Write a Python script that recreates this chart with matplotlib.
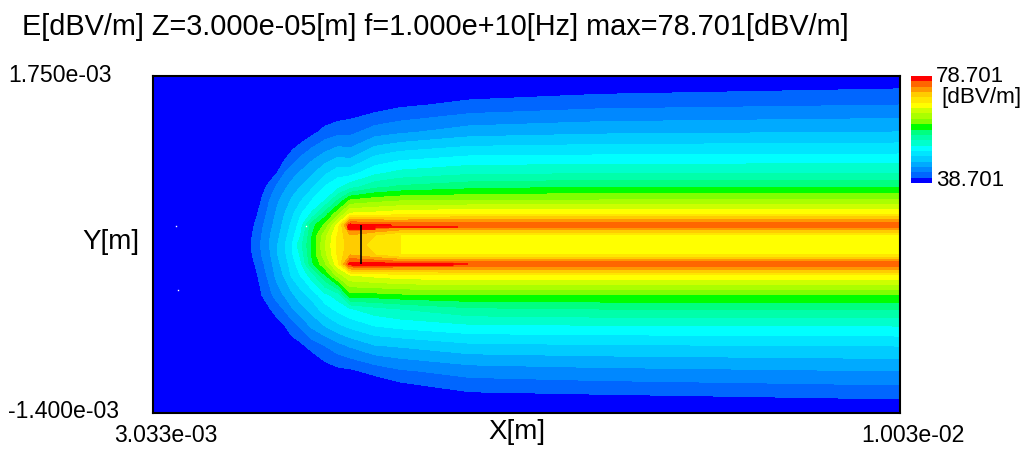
#!/usr/bin/env python3
# -*- coding: utf-8 -*-

"""
E field map at Z=3e-05 m, filled contours with a discrete colour bar
"""

import numpy as np
import matplotlib
matplotlib.use("Agg")
import matplotlib.pyplot as plt
from matplotlib.colors import ListedColormap, BoundaryNorm

E_MIN = 38.701
E_MAX = 78.701
E_STEP = 2.0

# Grid nodes [m]
y_nodes = [1.750e-3, 1.479e-3, 1.227e-3, 1.021e-3, 0.843e-3, 0.712e-3, 0.591e-3,
           0.460e-3, 0.357e-3, 0.264e-3, 0.170e-3, 0.077e-3, -0.007e-3, -0.110e-3,
           -0.297e-3, -0.428e-3, -0.587e-3, -0.774e-3, -1.007e-3, -1.269e-3, -1.400e-3]
x_nodes = [3.033e-3, 3.755e-3, 3.962e-3, 4.056e-3, 4.130e-3, 4.196e-3, 4.271e-3, 4.337e-3,
           4.412e-3, 4.524e-3, 4.646e-3, 4.768e-3, 4.881e-3, 5.115e-3, 5.350e-3, 6.006e-3,
           7.225e-3, 1.003e-2]

# Field along each x node, in colour steps above E_MIN (one step = 2 dB)
col_00 = [-6] * 21
col_01 = [-6, -6, -6, -5, -4, -3, -2.5, -2, -1.5, -1.2, -1, -1.2, -1.5, -1.7, -2.5, -3, -3.5, -4, -5, -6, -6]
col_02 = [-5, -4.5, -3.5, -2.5, -1.5, -.8, -.2, .4, .75, 1, 1.05, 1, .7, .4, -.2, -.7, -1.3, -2.2, -3.3, -5, -6]
col_03 = [-4.5, -3, -1.6, -.6, .2, .7, 1.1, 1.5, 1.85, 2.05, 2.2, 2.05, 1.8, 1.5, 1.02, .55, -.1, -1, -2.2, -4, -5]
col_04 = [-4, -2.7, -1.3, -.3, .55, 1.3, 2.05, 2.4, 2.7, 2.95, 3.1, 2.9, 2.65, 2.37, 1.75, .95, .2, -.6, -2, -3.6, -4.5]
col_05 = [-3.7, -2.3, -.9, .2, 1, 2.2, 2.8, 3.2, 3.45, 3.7, 3.9, 3.9, 3.65, 3.35, 2.45, 1.5, .5, -.4, -1.8, -3.3, -4.2]
col_06 = [-3.4, -1.8, -.4, .6, 2.05, 2.85, 3.45, 4.05, 4.35, 4.65, 5, 4.85, 4.55, 4.2, 3.15, 2.15, 1, 0, -1.4, -3, -4]
col_07 = [-3, -1.4, 0, 1.2, 2.6, 3.4, 4.15, 4.8, 5.25, 5.6, 6, 5.85, 5.5, 5.2, 3.8, 2.9, 1.5, .5, -1.2, -2.8, -3.7]
col_08 = [-2.7, -1, .1, 1.75, 3.1, 4, 4.8, 5.85, 6.4, 6.85, 7.6, 7.1, 6.6, 6, 4.5, 3.6, 2.1, .7, -.9, -2.5, -3.5]
col_09 = [-2.4, -.8, .7, 2.5, 3.85, 4.85, 6, 7.2, 9.6, 10, 10.1, 10.1, 9.8, 7.6, 5.4, 4.4, 3.2, 1.4, -.4, -2.2, -3]
col_10 = [-2, -.3, 1.35, 3.15, 4.8, 6.1, 6.95, 9.5, 11.2, 12.6, 13, 12.7, 11.8, 10, 6.7, 5.55, 4, 2, .4, -1.5, -2.4]
col_11 = [-1.6, -.1, 1.7, 3.65, 5.6, 6.75, 9, 11.75, 14.5, 15.2, 15.3, 15.2, 14.8, 12.5, 7.5, 6.3, 4.75, 2.6, .7, -1.2, -2]
col_12 = [-1.3, .2, 1.7, 3.5, 5.6, 7.6, 11, 14.2, 19.5, 17, 16.5, 17, 19.5, 14, 10.6, 6.9, 5.25, 3.1, .8, -1, -1.7]
col_13 = [-1, .4, 2.5, 4.8, 6.75, 8.75, 11.5, 14.4, 19.2, 16, 15.7, 16, 19.5, 14.4, 10.6, 7.6, 6, 3.9, 1.35, -.8, -1.4]
col_14 = [-.7, .8, 2.8, 5.3, 7.3, 9.2, 11.8, 14.7, 18.9, 15, 15, 15, 19.2, 14.7, 10.8, 8, 6.3, 4.1, 1.85, -.3, -1]
col_15 = [-.4, 1.3, 3.5, 5.8, 7.8, 9.7, 11.9, 15, 18.9, 15, 14.5, 15, 18.9, 15, 11, 8.8, 6.8, 4.7, 2.45, .5, -.5]
col_16 = [-.2, 1.7, 3.8, 5.9, 7.9, 10, 12, 15, 18.9, 15, 14.3, 15, 18.9, 15, 11, 9, 6.9, 4.85, 2.7, .65, -.2]
col_17 = [.2, 2, 4, 6, 8, 10, 12, 15, 18.9, 15, 14.5, 15, 18.9, 15, 11, 9, 7, 5, 3, 1, .3]

# Colour steps, from the bottom of the bar to the top
band_colors = ['#0000ff', '#0066ff', '#0088ff', '#00aaff', '#00ccff', '#00e5ff', '#00ffff',
               '#00ffcc', '#00ffaa', '#00ff80', '#00ff00', '#80ff00', '#aaff00', '#ccff00',
               '#ffff00', '#ffe600', '#ffcc00', '#ff9900', '#ff6600', '#ff0000']

# Conductor edges and the cross line [m]
strip_top_x = [4.853e-3, 5.894e-3]
strip_top_y = [0.343e-3, 0.343e-3]
strip_top_core_x = [4.853e-3, 5.115e-3]
strip_bot_x = [4.890e-3, 5.987e-3]
strip_bot_y = [-0.003e-3, -0.003e-3]
strip_bot_core_x = [4.890e-3, 5.847e-3]
cross_x = [4.984e-3, 4.984e-3]
cross_y = [0.357e-3, -0.007e-3]

# Isolated white cells
speck_x = [3.249e-3, 3.268e-3, 4.468e-3]
speck_y = [0.347e-3, -0.247e-3, 0.347e-3]

W, H = 1026, 467


def px_axes(fig, left, top, right, bottom):
    return fig.add_axes([left / W, 1 - bottom / H, (right - left) / W, (bottom - top) / H])


plt.rcParams['font.family'] = ['Liberation Sans', 'DejaVu Sans']

fig = plt.figure(figsize=(W / 100, H / 100), dpi=100, facecolor='white')

ax = px_axes(fig, 153, 76, 899.5, 413)
steps = np.column_stack([col_00, col_01, col_02, col_03, col_04, col_05, col_06, col_07, col_08,
                         col_09, col_10, col_11, col_12, col_13, col_14, col_15, col_16, col_17])
field = E_MIN + E_STEP * steps
levels = E_MIN + E_STEP * np.arange(0, len(band_colors) + 1)
cmap = ListedColormap(band_colors)
cmap.set_under(band_colors[0])
cmap.set_over(band_colors[-1])
ax.contourf(x_nodes, y_nodes, field, levels=levels, cmap=cmap,
            norm=BoundaryNorm(levels, cmap.N), extend='both')

ax.plot(strip_top_x, strip_top_y, color='#ff0000', lw=1.2, solid_capstyle='butt')
ax.plot(strip_top_core_x, strip_top_y, color='#ff0000', lw=3.5, solid_capstyle='butt')
ax.plot(strip_bot_x, strip_bot_y, color='#ff0000', lw=1.2, solid_capstyle='butt')
ax.plot(strip_bot_core_x, strip_bot_y, color='#ff0000', lw=2.5, solid_capstyle='butt')
ax.plot(cross_x, cross_y, color='black', lw=1.2, solid_capstyle='butt')
ax.plot(speck_x, speck_y, ls='none', marker='s', ms=1, mew=0, color='white')

ax.set_xlim(3.033e-3, 1.003e-2)
ax.set_ylim(-1.400e-3, 1.750e-3)
ax.set_xticks([])
ax.set_yticks([])
for spine in ax.spines.values():
    spine.set_linewidth(1.5)
    spine.set_color('black')

# Colour bar
cax = px_axes(fig, 911, 76, 932, 183)
cax.pcolormesh([0, 1], levels, np.arange(len(band_colors)).reshape(-1, 1), cmap=cmap)
cax.set_ylim(E_MIN, E_MAX)
cax.axis('off')


def label(x, y, text, size, ha='left'):
    fig.text(x / W, 1 - y / H, text, fontsize=size, ha=ha, va='center', color='black')


label(22, 27, 'E[dBV/m] Z=3.000e-05[m] f=1.000e+10[Hz] max=78.701[dBV/m]', 20.8)
label(8, 75, '1.750e-03', 16.6)
label(8, 411, '-1.400e-03', 16.6)
label(82, 242, 'Y[m]', 20)
label(114, 435, '3.033e-03', 16.6)
label(488, 432, 'X[m]', 20)
label(861, 435, '1.003e-02', 16.6)
label(936, 76, '78.701', 16)
label(941, 97, '[dBV/m]', 16.2)
label(936, 181, '38.701', 16)

fig.savefig('out.png', dpi=100)
